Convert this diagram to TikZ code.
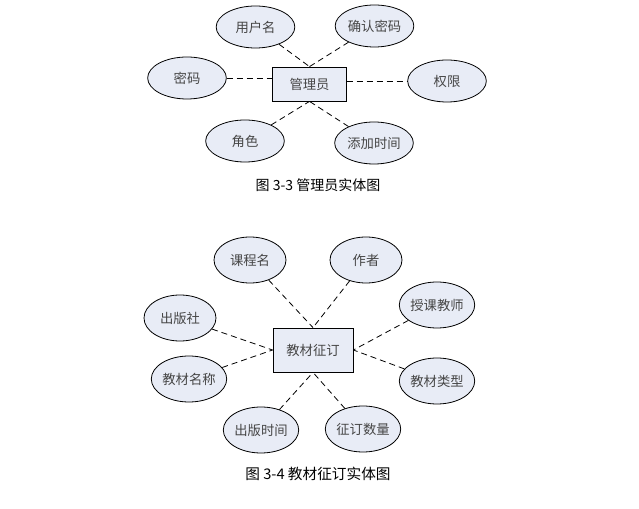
\documentclass[tikz,border=0pt]{standalone}
\usepackage{fontspec}
\setmainfont{Noto Sans CJK SC}
\usetikzlibrary{shapes.geometric}
\definecolor{attrfill}{RGB}{232,236,246}
\definecolor{txtgray}{RGB}{70,70,70}
\tikzset{
	attr/.style={ellipse, draw=black, line width=0.6pt, fill=attrfill, inner sep=0pt, text=txtgray, font=\fontsize{10}{12}\selectfont},
	entity/.style={rectangle, draw=black, line width=0.6pt, fill=attrfill, inner sep=0pt, text=txtgray, font=\fontsize{10}{12}\selectfont},
	link/.style={black, line width=0.6pt, dash pattern=on 4.5pt off 3pt},
	caption/.style={text=black, font=\fontsize{10.5}{12}\selectfont}
}
\begin{document}
\begin{tikzpicture}[x=0.75pt, y=-0.75pt]
	\useasboundingbox (0,0) rectangle (639,509);
	% Figure 3-3
	\begin{scope}[every node/.append style={minimum width=59pt, minimum height=31.5pt}]
	\node[attr] (yhm) at (255.5,27) {用户名};
	\node[attr] (qrmm) at (374.5,26) {确认密码};
	\node[attr] (mm) at (187,78) {密码};
	\node[attr] (qx) at (447,81) {权限};
	\node[attr] (js) at (245,141) {角色};
	\node[attr] (tjsj) at (374,143) {添加时间};
	\end{scope}
	\node[entity, minimum width=55pt, minimum height=25.5pt] (gly) at (309.5,84) {管理员};
	\draw[link] (yhm) -- (gly.north);
	\draw[link] (qrmm) -- (gly.north);
	\draw[link] (mm) -- (mm -| gly.west);
	\draw[link] (gly.east |- qx) -- (qx);
	\draw[link] (js) -- (gly.south);
	\draw[link] (tjsj) -- (gly.south);
	\node[caption] (cap33) at (318,185) {图 3-3 管理员实体图};
	% Figure 3-4
	\begin{scope}[every node/.append style={minimum width=54pt, minimum height=34.5pt}]
	\node[attr] (kcm) at (250,260) {课程名};
	\node[attr] (zz) at (366,260) {作者};
	\node[attr] (skjs) at (437,305) {授课教师};
	\node[attr] (cbs) at (180,318) {出版社};
	\node[attr] (jcmc) at (189,379) {教材名称};
	\node[attr] (jclx) at (437,381) {教材类型};
	\node[attr] (cbsj) at (261,430) {出版时间};
	\node[attr] (zdsl) at (363,429) {征订数量};
	\end{scope}
	\node[entity, minimum width=60pt, minimum height=33pt] (jczd) at (313,350) {教材征订};
	\draw[link] (kcm) -- (jczd.north);
	\draw[link] (zz) -- (jczd.north);
	\draw[link] (cbs) -- (jczd.west);
	\draw[link] (jcmc) -- (jczd.west);
	\draw[link] (skjs) -- (jczd.east);
	\draw[link] (jclx) -- (jczd.east);
	\draw[link] (cbsj) -- (jczd.south);
	\draw[link] (zdsl) -- (jczd.south);
	\node[caption, font=\fontsize{11}{13}\selectfont] (cap34) at (318,474) {图 3-4 教材征订实体图};
\end{tikzpicture}
\end{document}
